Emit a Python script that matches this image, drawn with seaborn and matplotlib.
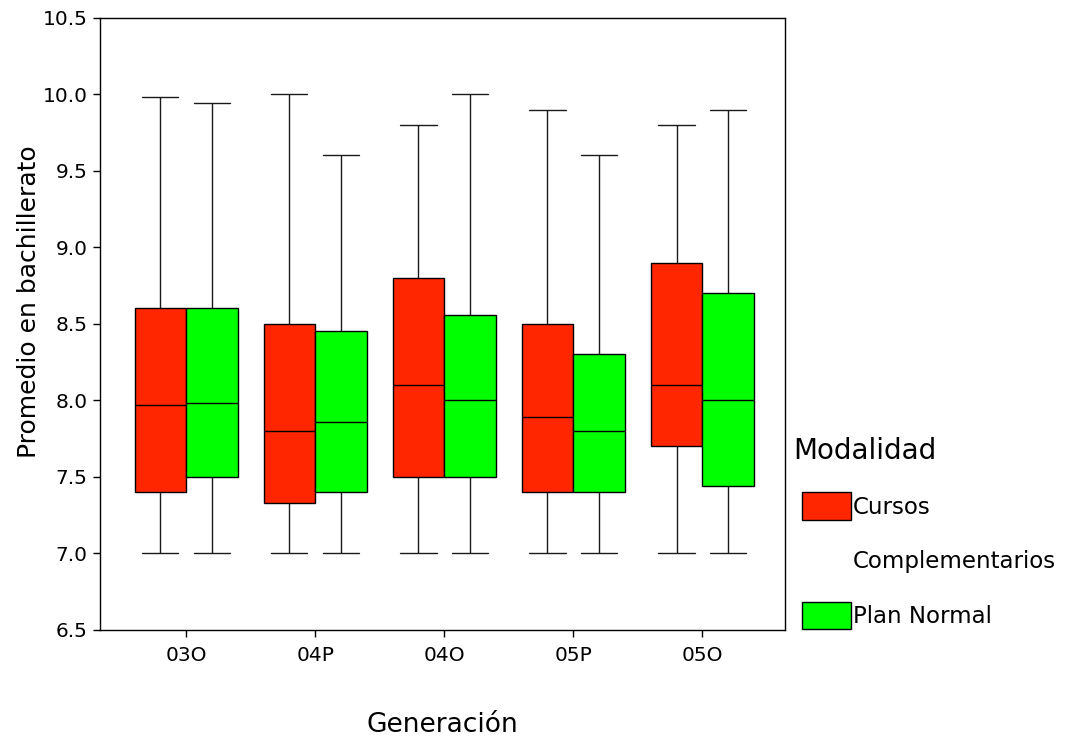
import matplotlib
matplotlib.use("Agg")
import matplotlib.pyplot as plt
from matplotlib.patches import Patch, Rectangle
from matplotlib.legend_handler import HandlerPatch
import seaborn as sns
import pandas as pd

# ---- data (five-number summaries) ----
generaciones = ["03O", "04P", "04O", "05P", "05O"]
modalidades = ["Cursos Complementarios", "Plan Normal"]

cursos_min = [7.0, 7.0, 7.0, 7.0, 7.0]
cursos_q1 = [7.40, 7.33, 7.50, 7.40, 7.70]
cursos_med = [7.97, 7.80, 8.10, 7.89, 8.10]
cursos_q3 = [8.60, 8.50, 8.80, 8.50, 8.90]
cursos_max = [9.98, 10.0, 9.80, 9.90, 9.80]

normal_min = [7.0, 7.0, 7.0, 7.0, 7.0]
normal_q1 = [7.50, 7.40, 7.50, 7.40, 7.44]
normal_med = [7.98, 7.86, 8.00, 7.80, 8.00]
normal_q3 = [8.60, 8.45, 8.56, 8.30, 8.70]
normal_max = [9.94, 9.60, 10.0, 9.60, 9.90]

legend_labels = ["Cursos", "Complementarios", "Plan Normal"]
y_ticks = [6.5, 7.0, 7.5, 8.0, 8.5, 9.0, 9.5, 10.0, 10.5]

summaries = {
    modalidades[0]: (cursos_min, cursos_q1, cursos_med, cursos_q3, cursos_max),
    modalidades[1]: (normal_min, normal_q1, normal_med, normal_q3, normal_max),
}

rows = []
for mod, arrs in summaries.items():
    for i, g in enumerate(generaciones):
        for arr in arrs:
            rows.append({"Generación": g, "Modalidad": mod, "Promedio": arr[i]})
df = pd.DataFrame(rows)

colors = {modalidades[0]: "#ff2600", modalidades[1]: "#00ff00"}

sns.set_style("white")
plt.rcParams["font.family"] = ["DejaVu Sans"]
plt.rcParams["text.color"] = "black"
plt.rcParams["axes.labelcolor"] = "black"
plt.rcParams["xtick.color"] = "black"
plt.rcParams["ytick.color"] = "black"

fig = plt.figure(figsize=(10.65, 7.4), dpi=100)
ax = fig.add_axes([0.094, 0.149, 0.643, 0.827])

common = dict(data=df, x="Generación", y="Promedio", hue="Modalidad",
              order=generaciones, hue_order=modalidades, palette=colors,
              width=0.8, gap=0, whis=(0, 100), linecolor="black",
              linewidth=1.0, saturation=1, legend=False, ax=ax,
              whiskerprops={"color": "#1a1a1a", "linewidth": 1.0},
              capprops={"color": "#1a1a1a", "linewidth": 1.0})
try:
    sns.boxplot(capwidths=0.28, **common)
except TypeError:
    ax.cla()
    sns.boxplot(**common)

ax.set_xlim(-0.667, 4.64)
ax.set_ylim(6.5, 10.5)
ax.set_yticks(y_ticks)
ax.set_yticklabels([f"{v:.1f}" for v in y_ticks])
ax.tick_params(axis="both", which="major", direction="out", length=5,
               width=1, color="black", labelsize=14.5, left=True, bottom=True)
ax.tick_params(axis="x", pad=7)
ax.tick_params(axis="y", pad=4)
for s in ax.spines.values():
    s.set_visible(True)
    s.set_color("black")
    s.set_linewidth(1.0)

ax.set_xlabel("Generación", fontsize=19)
ax.set_ylabel("Promedio en bachillerato", fontsize=18)
ax.xaxis.set_label_coords(0.5, -0.134)
ax.yaxis.set_label_coords(-0.086, 0.536)


# legend
def shifted_patch(legend, orig_handle, xdescent, ydescent, width, height, fontsize):
    off = 6.5
    return Rectangle((-xdescent + off, -ydescent), width - off, height)


handles = [Patch(facecolor=colors[modalidades[0]], edgecolor="black", linewidth=1),
           Patch(facecolor="none", edgecolor="none", linewidth=0),
           Patch(facecolor=colors[modalidades[1]], edgecolor="black", linewidth=1)]
leg = fig.legend(handles, legend_labels, loc="upper left",
                 bbox_to_anchor=(793 / 1065, 1 - 437 / 740),
                 frameon=False, fontsize=16.5, title="Modalidad", title_fontsize=20,
                 handlelength=2.55, handleheight=1.45, handletextpad=0.05,
                 labelspacing=1.2, alignment="left", borderaxespad=0, borderpad=0,
                 handler_map={Patch: HandlerPatch(patch_func=shifted_patch)})

fig.savefig("out.png", dpi=100)
